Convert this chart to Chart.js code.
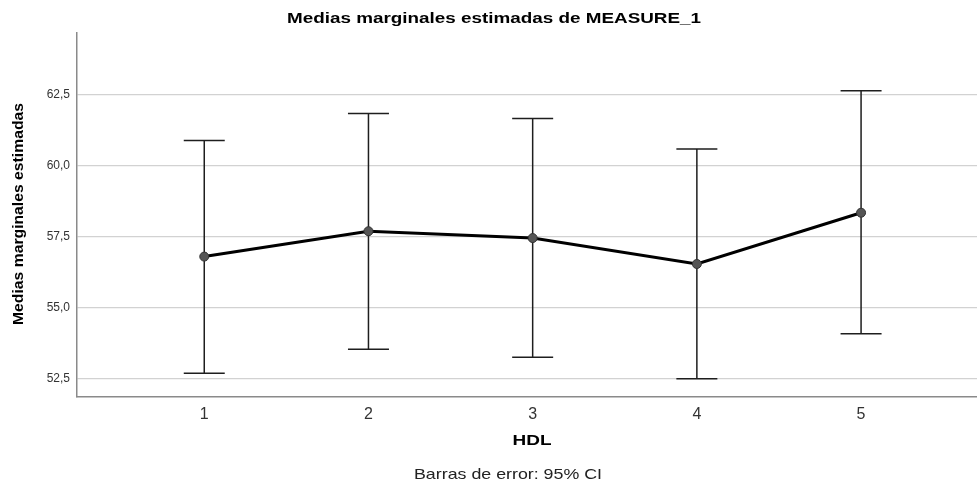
<!DOCTYPE html>
<html>
<head>
<meta charset="utf-8">
<script src="https://cdn.jsdelivr.net/npm/chart.js@4"></script>
<style>
  html, body { margin: 0; padding: 0; background: #fff; }
  #wrap { width: 977px; height: 483px; }
</style>
</head>
<body>
<div id="wrap"><canvas id="chart" width="977" height="483"></canvas></div>
<script>
// HDL groups and estimated marginal means of MEASURE_1 with 95% CI
const categories = ["1", "2", "3", "4", "5"]
const means = [56.80, 57.69, 57.45, 56.54, 58.34]
const ciLower = [52.70, 53.55, 53.27, 52.51, 54.09]
const ciUpper = [60.88, 61.82, 61.65, 60.58, 62.62]
const yTicks = [52.5, 55.0, 57.5, 60.0, 62.5]

const FONT = "'Liberation Sans', Arial, sans-serif"

const errorBars = {
  id: "errorBars",
  beforeDatasetsDraw(chart) {
    const { ctx, scales: { x, y } } = chart
    ctx.save()
    ctx.strokeStyle = "#1e1e1e"
    ctx.lineWidth = 1.5
    means.forEach((m, i) => {
      const px = x.getPixelForValue(i + 1)
      const top = y.getPixelForValue(ciUpper[i])
      const bot = y.getPixelForValue(ciLower[i])
      ctx.beginPath()
      ctx.moveTo(px, top); ctx.lineTo(px, bot)
      ctx.moveTo(px - 20.5, top); ctx.lineTo(px + 20.5, top)
      ctx.moveTo(px - 20.5, bot); ctx.lineTo(px + 20.5, bot)
      ctx.stroke()
    })
    ctx.restore()
  }
}

// SPSS text is drawn wider than Liberation Sans, so stretch it to the same width
function fitText(ctx, txt, x, y, width) {
  const w = ctx.measureText(txt).width
  ctx.save()
  ctx.translate(x, y)
  ctx.scale(width / w, 1)
  ctx.fillText(txt, 0, 0)
  ctx.restore()
}

const labels = {
  id: "labels",
  afterDraw(chart) {
    const { ctx } = chart
    ctx.save()
    ctx.fillStyle = "#000"
    ctx.textAlign = "center"
    ctx.textBaseline = "middle"

    ctx.font = "bold 15.5px " + FONT
    fitText(ctx, "Medias marginales estimadas de MEASURE_1", 494, 19, 414)
    fitText(ctx, "HDL", 532, 441, 39)

    ctx.save()
    ctx.translate(19, 214)
    ctx.rotate(-Math.PI / 2)
    fitText(ctx, "Medias marginales estimadas", 0, 0, 222)
    ctx.restore()

    ctx.font = "14.5px " + FONT
    ctx.fillStyle = "#222"
    fitText(ctx, "Barras de error: 95% CI", 508, 475, 188)
    ctx.restore()
  }
}

new Chart(document.getElementById("chart"), {
  type: "line",
  data: {
    datasets: [{
      data: means.map((m, i) => ({ x: i + 1, y: m })),
      borderColor: "#000",
      borderWidth: 3,
      tension: 0,
      pointRadius: 4.5,
      pointBackgroundColor: "#555",
      pointBorderColor: "#333",
      pointBorderWidth: 1
    }]
  },
  options: {
    responsive: false,
    animation: false,
    layout: { autoPadding: false, padding: { top: 33, right: 0, bottom: 0, left: 0 } },
    plugins: {
      legend: { display: false },
      tooltip: { enabled: false },
      title: { display: false }
    },
    scales: {
      x: {
        type: "linear",
        min: 0.225,
        max: 5.706,
        afterFit: s => { s.height = 86 },
        afterBuildTicks: s => { s.ticks = categories.map((c, i) => ({ value: i + 1 })) },
        grid: { display: false, drawTicks: false },
        border: { color: "#8a8a8a", width: 1.5 },
        ticks: {
          padding: 8,
          color: "#333",
          font: { family: FONT, size: 16 },
          callback: (v) => categories[Math.round(v) - 1]
        }
      },
      y: {
        min: 51.87,
        max: 64.65,
        afterFit: s => { s.width = 77 },
        afterBuildTicks: s => { s.ticks = yTicks.map(v => ({ value: v })) },
        grid: { color: "#d2d2d2", lineWidth: 1.3, drawTicks: false },
        border: { color: "#8a8a8a", width: 1.5 },
        ticks: {
          padding: 7,
          color: "#333",
          font: { family: FONT, size: 12 },
          callback: v => v.toFixed(1).replace(".", ",")
        }
      }
    }
  },
  plugins: [errorBars, labels]
})
</script>
</body>
</html>
